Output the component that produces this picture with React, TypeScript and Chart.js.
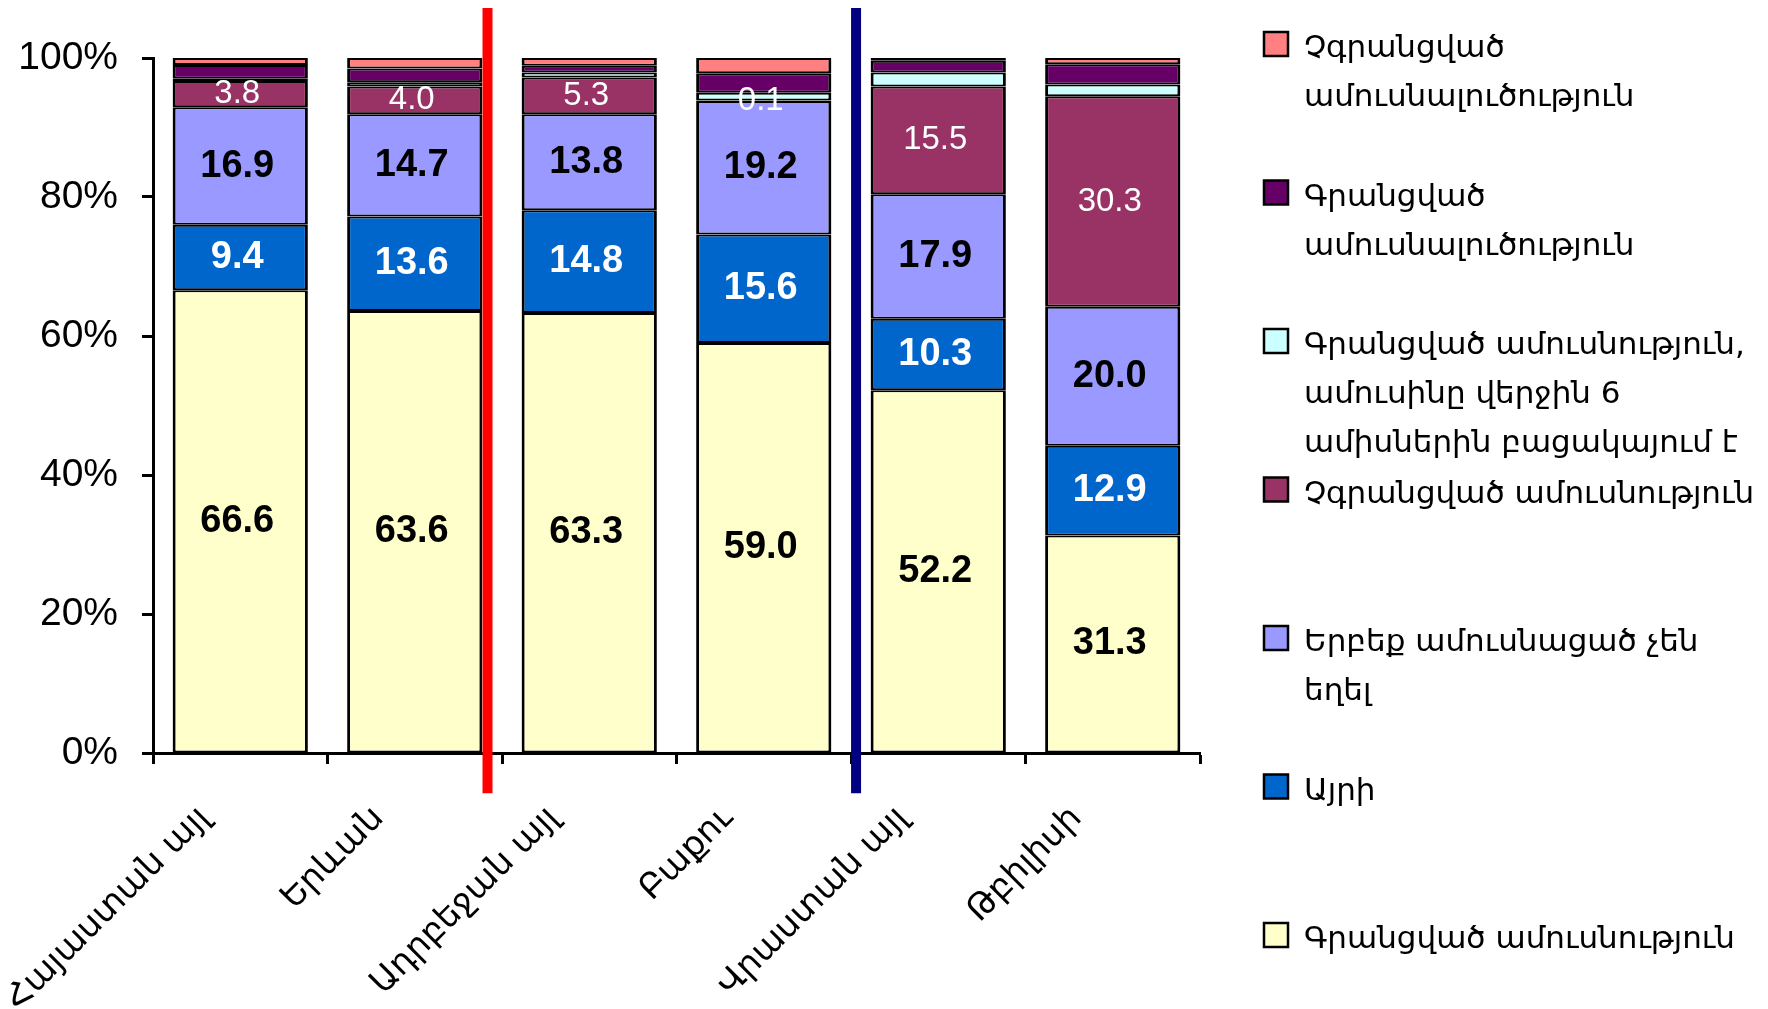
import React, { useEffect, useRef } from "react";
import { Chart, registerables } from "chart.js";
Chart.register(...registerables);

// ---- data ----
const categories = ["Հայաստան այլ", "Երևան", "Ադրբեջան այլ", "Բաքու", "Վրաստան այլ", "Թբիլիսի"];

const seriesLabels = [
  "Գրանցված ամուսնություն",
  "Այրի",
  "Երբեք ամուսնացած չեն\nեղել",
  "Չգրանցված ամուսնություն",
  "Գրանցված ամուսնություն,\nամուսինը վերջին 6\nամիսներին բացակայում է",
  "Գրանցված\nամուսնալուծություն",
  "Չգրանցված\nամուսնալուծություն",
];

const registeredMarriage = [66.6, 63.6, 63.3, 59.0, 52.2, 31.3];
const widowed = [9.4, 13.6, 14.8, 15.6, 10.3, 12.9];
const neverMarried = [16.9, 14.7, 13.8, 19.2, 17.9, 20.0];
const unregisteredMarriage = [3.8, 4.0, 5.3, 0.1, 15.5, 30.3];
const spouseAbsent = [0.3, 0.6, 0.7, 1.1, 2.0, 1.7];
const registeredDivorce = [2.0, 2.0, 1.0, 2.8, 1.7, 2.9];
const unregisteredDivorce = [1.0, 1.5, 1.1, 2.2, 0.4, 0.9];

const yTickValues = [0, 20, 40, 60, 80, 100];
// separators, in category-index units
const separatorPositions = [1.417, 3.529];

// ---- styles ----
const seriesColors = ["#FFFFCC", "#0066CC", "#9999FF", "#993366", "#CCFFFF", "#660066", "#FF8080"];
const separatorColors = ["#FF0000", "#000080"];
const boldLabel = "bold 38px 'Liberation Sans', Arial, sans-serif";
const normalLabel = "33px 'Liberation Sans', Arial, sans-serif";
const labelStyles: any[] = [
  { font: boldLabel, color: "#000000" },
  { font: boldLabel, color: "#FFFFFF" },
  { font: boldLabel, color: "#000000" },
  { font: normalLabel, color: "#FFFFFF" },
  null,
  null,
  null,
];
const armFont = "'DejaVu Sans', sans-serif";

const overlayPlugin = {
  id: "overlay",
  afterDatasetsDraw(chart: any) {
    const ctx = chart.ctx;
    const xs = chart.scales.x;
    const ys = chart.scales.y;
    // segment labels
    chart.data.datasets.forEach((ds: any, di: number) => {
      const st = ds.labelStyle;
      if (!st) return;
      const meta = chart.getDatasetMeta(di);
      meta.data.forEach((el: any, i: number) => {
        const v = ds.data[i];
        const p = el.getProps(["x", "y", "base"], true);
        ctx.save();
        ctx.font = st.font;
        ctx.fillStyle = st.color;
        ctx.textAlign = "center";
        ctx.textBaseline = "middle";
        ctx.fillText(v.toFixed(1), p.x - 3, (p.y + p.base) / 2);
        ctx.restore();
      });
    });
    // separators
    separatorPositions.forEach((pos, k) => {
      const x = xs.getPixelForValue(pos);
      ctx.save();
      ctx.strokeStyle = separatorColors[k];
      ctx.lineWidth = 10;
      ctx.beginPath();
      ctx.moveTo(x, ys.getPixelForValue(107.2));
      ctx.lineTo(x, ys.getPixelForValue(-5.8));
      ctx.stroke();
      ctx.restore();
    });
  },
  afterDraw(chart: any) {
    const ctx = chart.ctx;
    const xs = chart.scales.x;
    // rotated category labels
    chart.data.labels.forEach((lab: string, i: number) => {
      const x = xs.getPixelForValue(i) - 48;
      const y = 801;
      ctx.save();
      ctx.translate(x, y);
      ctx.rotate(-Math.PI / 4);
      ctx.font = `34px ${armFont}`;
      ctx.fillStyle = "#000";
      ctx.textAlign = "right";
      ctx.textBaseline = "top";
      ctx.fillText(lab, 0, 0);
      ctx.restore();
    });
    // legend
    const n = chart.data.datasets.length;
    for (let k = 0; k < n; k++) {
      const ds = chart.data.datasets[n - 1 - k];
      const cy = 44 + 148.5 * k;
      ctx.save();
      ctx.fillStyle = ds.backgroundColor;
      ctx.fillRect(1264, cy - 12, 24, 24);
      ctx.strokeStyle = "#000";
      ctx.lineWidth = 2.5;
      ctx.strokeRect(1264, cy - 12, 24, 24);
      ctx.font = `31px ${armFont}`;
      ctx.fillStyle = "#000";
      ctx.textAlign = "left";
      ctx.textBaseline = "alphabetic";
      String(ds.label)
        .split("\n")
        .forEach((line: string, j: number) => {
          ctx.fillText(line, 1304, cy + 13 + 49 * j);
        });
      ctx.restore();
    }
  },
};

export default function App() {
  const ref = useRef<HTMLCanvasElement | null>(null);
  useEffect(() => {
    if (!ref.current) return;
    const series = [
      registeredMarriage,
      widowed,
      neverMarried,
      unregisteredMarriage,
      spouseAbsent,
      registeredDivorce,
      unregisteredDivorce,
    ];
    const chart = new Chart(ref.current, {
      type: "bar",
      data: {
        labels: categories,
        datasets: series.map((d, i) => ({
          label: seriesLabels[i],
          data: d,
          backgroundColor: seriesColors[i],
          borderColor: "#000000",
          borderWidth: { left: 3, right: 3, top: 2, bottom: 2 },
          borderSkipped: false,
          barPercentage: 0.775,
          categoryPercentage: 1,
          labelStyle: labelStyles[i],
        })) as any,
      },
      options: {
        animation: false,
        responsive: false,
        layout: { padding: { top: 58, right: 568, left: 0, bottom: 0 } },
        plugins: { legend: { display: false }, tooltip: { enabled: false } },
        scales: {
          x: {
            stacked: true,
            offset: true,
            grid: {
              offset: true,
              drawOnChartArea: false,
              drawTicks: true,
              tickLength: 11,
              tickWidth: 3,
              tickColor: "#000",
            },
            border: { display: true, color: "#000", width: 3 },
            ticks: { display: false, autoSkip: false },
            afterFit: (s: any) => {
              s.height = 256;
            },
          },
          y: {
            stacked: true,
            min: 0,
            max: 100,
            afterBuildTicks: (s: any) => {
              s.ticks = yTickValues.map((v) => ({ value: v }));
            },
            grid: {
              drawOnChartArea: false,
              drawTicks: true,
              tickLength: 11,
              tickWidth: 3,
              tickColor: "#000",
            },
            border: { display: true, color: "#000", width: 3 },
            ticks: {
              padding: 24,
              color: "#000",
              font: { family: "'Liberation Sans', Arial, sans-serif", size: 39 },
              callback: (v: any) => `${v}%`,
            },
            afterFit: (s: any) => {
              s.width = 153;
            },
          },
        },
      },
      plugins: [overlayPlugin],
    });
    return () => chart.destroy();
  }, []);
  return (
    <div style={{ position: "fixed", left: 0, top: 0, width: 1768, height: 1009, background: "#fff" }}>
      <canvas ref={ref} width={1768} height={1009} style={{ width: 1768, height: 1009 }} />
    </div>
  );
}
